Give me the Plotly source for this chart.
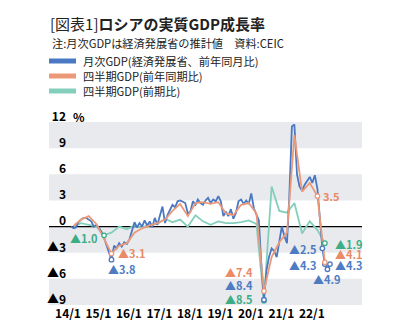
import plotly.graph_objects as go
import pandas as pd

# ---------------- data ----------------
months = pd.date_range("2014-01-01", periods=103, freq="MS")
quarters = pd.date_range("2014-02-01", periods=34, freq="3MS")  # plotted at mid-quarter month

monthly_gdp_yoy = [
    0.0, -0.2, -0.1, 0.5, 0.8, 1.0, 1.0, 0.8, 0.6, 0.0, 0.2, -0.1,      # 2014
    -0.6, -1.3, -2.1, -3.0, -3.8, -2.2, -2.5, -1.9, -2.3, -1.8, -2.0, -1.5,  # 2015
    -0.6, 0.5, -0.1, 0.4, 0.0, 0.7, 0.1, 0.6, -0.1, 1.0, 0.2, 1.2,     # 2016
    2.3, 0.4, 1.3, 1.9, 2.5, 2.2, 2.9, 3.0, 2.8, 2.7, 1.5, 1.7,        # 2017
    2.9, 2.5, 3.1, 2.7, 2.5, 3.0, 3.3, 2.7, 3.1, 2.9, 3.5, 2.9,        # 2018
    1.2, 1.7, 1.2, 2.0, 0.9, 1.6, 2.9, 3.1, 2.6, 3.0, 2.6, 3.8,        # 2019
    2.1, 1.4, 0.7, -4.5, -8.4, -5.0, -3.5, -2.5, -2.8, -3.5, -1.8, 0.0,  # 2020
    -1.1, -1.9, 3.5, 11.5, 11.7, 6.0, 4.6, 4.1, 4.8, 5.3, 5.7, 5.0,    # 2021
    5.9, 4.3, 1.3, -2.5, -4.3, -4.9, -4.3,                              # 2022
]

quarterly_gdp_yoy = [
    0.1, 0.8, 1.2, 0.3,
    -1.4, -3.1, -2.2, -1.9,
    -0.7, -0.2, 0.1, 0.4,
    0.8, 1.8, 2.6, 1.2,
    2.7, 2.8, 2.6, 2.8,
    1.5, 1.3, 2.5, 2.7,
    1.5, -7.4, -3.5, -1.8,
    -0.7, 10.5, 4.0, 5.0,
    3.5, -4.1,
]

quarterly_gdp_qoq = [
    0.0, 0.4, 0.2, 0.0,
    -1.0, -0.7, 0.0, -0.3,
    0.1, -0.1, 0.2, 0.3,
    0.9, 0.5, 0.8, 0.0,
    1.3, 0.6, 0.2, 0.6,
    0.4, 0.4, 0.5, 0.7,
    0.3, -8.5, 4.6, 1.8,
    1.6, 2.7, -0.8, 0.6,
    -0.4, -1.9,
]

x_tick_dates = pd.date_range("2014-01-01", "2022-01-01", freq="YS")
x_tick_labels = ["14/1", "15/1", "16/1", "17/1", "18/1", "19/1", "20/1", "21/1", "22/1"]
y_range = [-9, 12]
y_tick_values = [-9, -6, -3, 0, 3, 6, 9, 12]
y_tick_labels = ["▲9", "▲6", "▲3", "0", "3", "6", "9", "12"]
band_ranges = [(-9, -6), (-3, 0), (3, 6), (9, 12)]

series_names = ["月次GDP(経済発展省、前年同月比)", "四半期GDP(前年同期比)", "四半期GDP(前期比)"]

# highlighted points (indices into the series)
blue_marked = [16, 76, 99, 100, 101, 102]
orange_marked = [5, 25, 32, 33]
green_marked = [4, 25, 33]

# ---------------- style ----------------
FONT = "Noto Sans CJK JP, Noto Sans, sans-serif"
BLUE = "#4A78C2"
ORANGE = "#EC997A"
GREEN = "#84CFBC"
BLUE_T = "#4D7CC3"
ORANGE_T = "#EA8A66"
GREEN_T = "#3DAD86"
BAND = "#E8EAED"

W, H = 409, 336
L, R, T, B = 69, 47, 122, 31
PW, PH = W - L - R, H - T - B


def px_x(px):
    return (px - L) / PW


def px_y(py):
    return (H - B - py) / PH


def val_to_paper(v):
    # value on the y axis -> paper fraction (same linear scale as the axis)
    return (v - y_range[0]) / (y_range[1] - y_range[0])


fig = go.Figure()

fig.add_trace(go.Scatter(x=quarters, y=quarterly_gdp_qoq, mode="lines", name=series_names[2],
                         line=dict(color=GREEN, width=1.8), showlegend=False))
fig.add_trace(go.Scatter(x=months, y=monthly_gdp_yoy, mode="lines", name=series_names[0],
                         line=dict(color=BLUE, width=1.8), showlegend=False))
fig.add_trace(go.Scatter(x=quarters, y=quarterly_gdp_yoy, mode="lines", name=series_names[1],
                         line=dict(color=ORANGE, width=1.8), showlegend=False))

# marker circles
for xs, ys, idx, col in [
    (quarters, quarterly_gdp_qoq, green_marked, GREEN_T),
    (months, monthly_gdp_yoy, blue_marked, BLUE),
    (quarters, quarterly_gdp_yoy, orange_marked, ORANGE),
]:
    fig.add_trace(go.Scatter(x=[xs[i] for i in idx], y=[ys[i] for i in idx], mode="markers",
                             marker=dict(symbol="circle", size=4.5, color="white",
                                         line=dict(color=col, width=1.3)),
                             showlegend=False, hoverinfo="skip"))

# background bands and zero line (extend left under the y labels)
band_x0 = px_x(49)
for lo, hi in band_ranges:
    fig.add_shape(type="rect", xref="paper", yref="paper", x0=band_x0, x1=1,
                  y0=val_to_paper(lo), y1=val_to_paper(hi),
                  fillcolor=BAND, line=dict(width=0), layer="below")
fig.add_shape(type="line", xref="paper", yref="paper", x0=band_x0, x1=1,
              y0=val_to_paper(0), y1=val_to_paper(0),
              line=dict(color="black", width=1.2), layer="below")

# value labels: (x, y, text, color, xanchor, xshift, yshift)
label_specs = [
    (quarters[4], quarterly_gdp_qoq[4], "▲1.0", GREEN_T, "right", -4, -3),
    (quarters[5], quarterly_gdp_yoy[5], "▲3.1", ORANGE_T, "left", 5, 1),
    (months[16], monthly_gdp_yoy[16], "▲3.8", BLUE_T, "left", -5, -9),
    (quarters[25], quarterly_gdp_yoy[25], "▲7.4", ORANGE_T, "right", -9, 19),
    (months[76], monthly_gdp_yoy[76], "▲8.4", BLUE_T, "right", -9, 15),
    (quarters[25], quarterly_gdp_qoq[25], "▲8.5", GREEN_T, "right", -9, 2),
    (quarters[32], quarterly_gdp_yoy[32], "3.5", ORANGE_T, "left", 4, 0),
    (months[99], monthly_gdp_yoy[99], "▲2.5", BLUE_T, "right", -3, -1),
    (quarters[33], quarterly_gdp_qoq[33], "▲1.9", GREEN_T, "left", 8, -1),
    (quarters[33], quarterly_gdp_yoy[33], "▲4.1", ORANGE_T, "left", 8, 8),
    (months[100], monthly_gdp_yoy[100], "▲4.3", BLUE_T, "right", -6, -1),
    (months[102], monthly_gdp_yoy[102], "▲4.3", BLUE_T, "left", 3, -1),
    (months[101], monthly_gdp_yoy[101], "▲4.9", BLUE_T, "center", 0, -10),
]
for x, y, text, col, xa, xs, ys in label_specs:
    fig.add_annotation(x=x, y=y, xref="x", yref="y", text=text, showarrow=False,
                       xanchor=xa, yanchor="middle", xshift=xs, yshift=ys,
                       font=dict(family=FONT, size=11, color=col, weight="bold"))

# % unit
fig.add_annotation(x=0, y=12, xref="paper", yref="y", text="%", showarrow=False,
                   xanchor="left", yanchor="middle", xshift=2, yshift=6,
                   font=dict(family=FONT, size=12, color="black", weight="bold"))

# subtitle
fig.add_annotation(x=px_x(50), y=px_y(43), xref="paper", yref="paper",
                   text="注:月次GDPは経済発展省の推計値　資料:CEIC", showarrow=False,
                   xanchor="left", yanchor="middle",
                   font=dict(family=FONT, size=11.2, color="#222222"))

# custom legend
for i, (name, col) in enumerate(zip(series_names, [BLUE, ORANGE, GREEN])):
    yy = px_y(61 + 15 * i)
    fig.add_shape(type="line", xref="paper", yref="paper", x0=px_x(49), x1=px_x(76), y0=yy, y1=yy,
                  line=dict(color=col, width=5))
    fig.add_annotation(x=px_x(81), y=yy, xref="paper", yref="paper", text=name, showarrow=False,
                       xanchor="left", yanchor="middle",
                       font=dict(family=FONT, size=11.2, color="#222222"))

fig.update_layout(
    width=W, height=H,
    margin=dict(l=L, r=R, t=T, b=B, pad=0),
    paper_bgcolor="white", plot_bgcolor="rgba(0,0,0,0)",
    showlegend=False,
    title=dict(text="[図表1]<b>ロシアの実質GDP成長率</b>", x=50 / W, xref="container", xanchor="left",
               y=1 - 25 / H, yref="container", yanchor="middle",
               font=dict(family=FONT, size=15, color="#222222")),
    xaxis=dict(type="date", range=["2013-12-08", "2023-07-20"],
               tickvals=x_tick_dates, ticktext=x_tick_labels,
               showgrid=False, zeroline=False, showline=False, ticks="",
               ticklabelshift=-3, ticklabelstandoff=0,
               tickfont=dict(family=FONT, size=12, color="black", weight="bold")),
    yaxis=dict(range=y_range, tickvals=y_tick_values, ticktext=y_tick_labels,
               showgrid=False, zeroline=False, showline=False, ticks="",
               ticklabelposition="outside top", ticklabelstandoff=2, ticklabelshift=3,
               tickfont=dict(family=FONT, size=12, color="black", weight="bold")),
)

fig.write_html("out.html")
